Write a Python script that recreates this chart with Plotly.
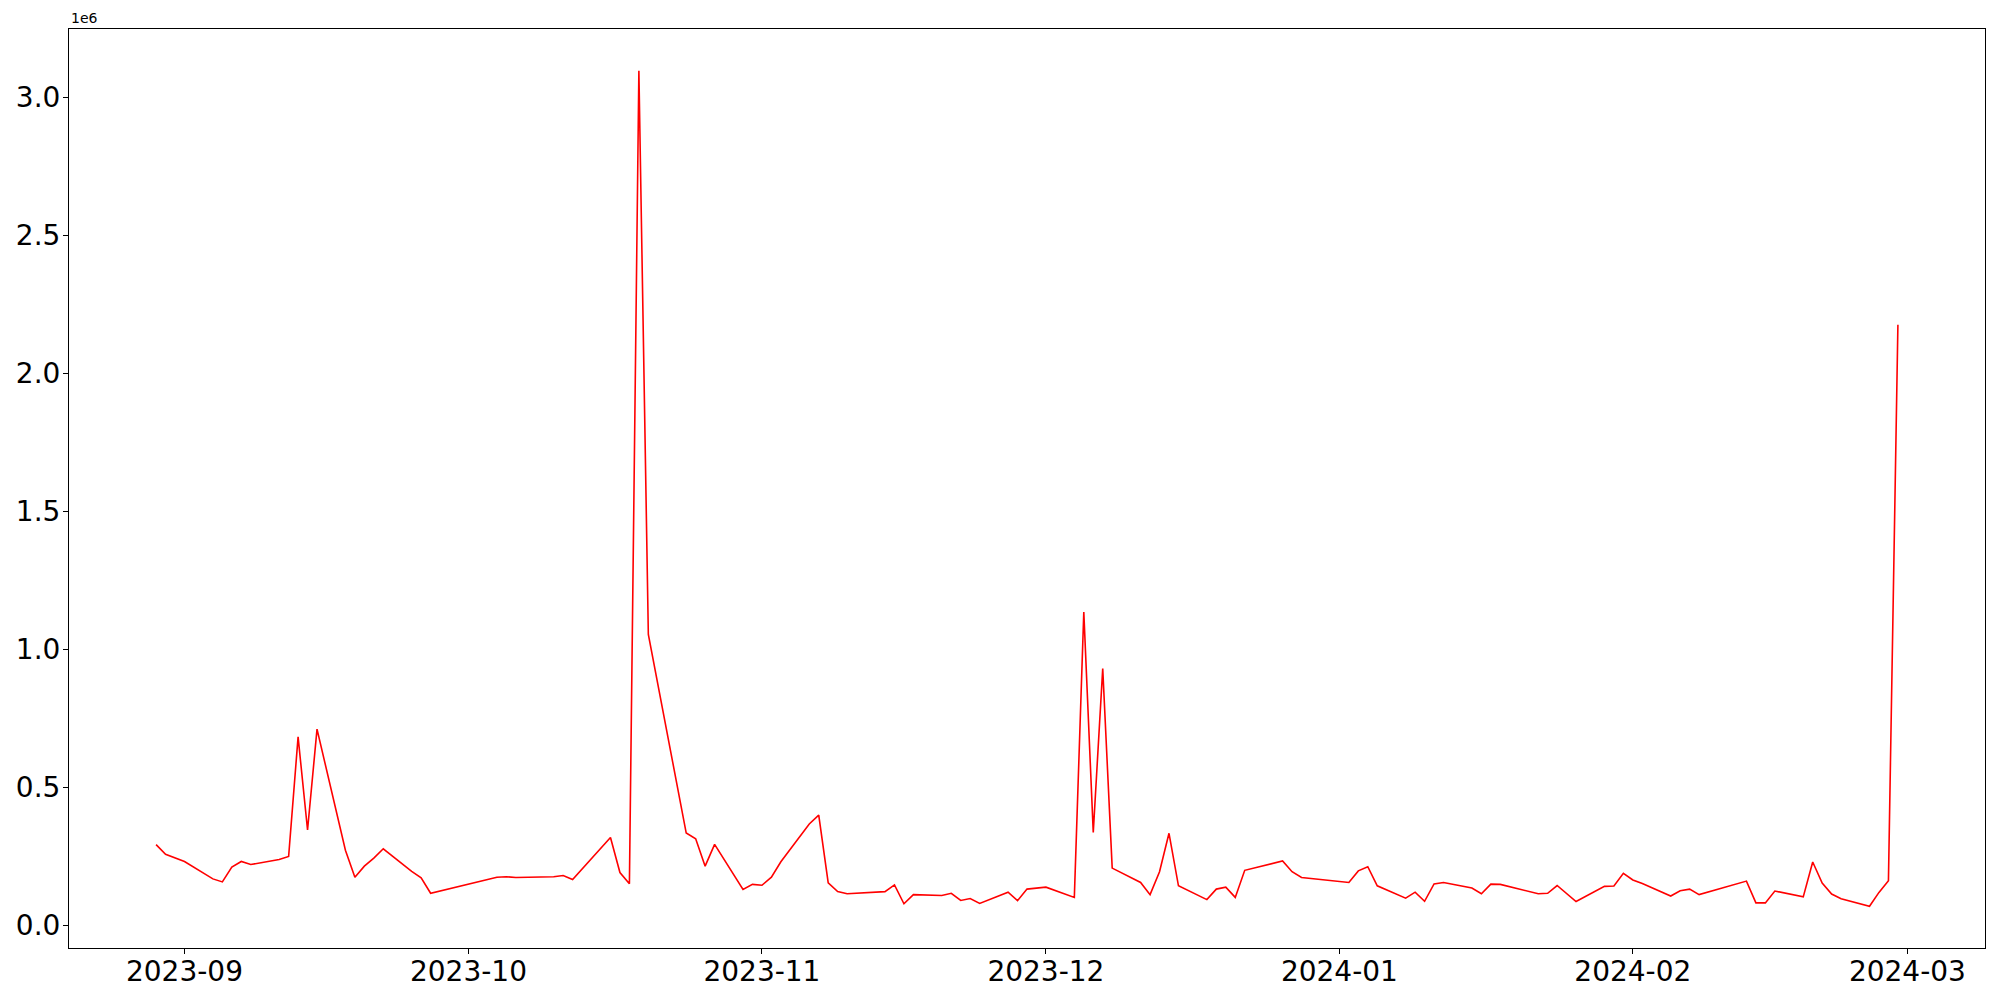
import pandas as pd
import plotly.graph_objects as go

dates = [
    "2023-08-29", "2023-08-30", "2023-09-01", "2023-09-04", "2023-09-05", "2023-09-06",
    "2023-09-07", "2023-09-08", "2023-09-11", "2023-09-12", "2023-09-13", "2023-09-14",
    "2023-09-15", "2023-09-18", "2023-09-19", "2023-09-20", "2023-09-21", "2023-09-22",
    "2023-09-25", "2023-09-26", "2023-09-27", "2023-10-04", "2023-10-05", "2023-10-06",
    "2023-10-10", "2023-10-11", "2023-10-12", "2023-10-16", "2023-10-17", "2023-10-18",
    "2023-10-19", "2023-10-20", "2023-10-24", "2023-10-25", "2023-10-26", "2023-10-27",
    "2023-10-30", "2023-10-31", "2023-11-01", "2023-11-02", "2023-11-03", "2023-11-06",
    "2023-11-07", "2023-11-08", "2023-11-09", "2023-11-10", "2023-11-14", "2023-11-15",
    "2023-11-16", "2023-11-17", "2023-11-20", "2023-11-21", "2023-11-22", "2023-11-23",
    "2023-11-24", "2023-11-27", "2023-11-28", "2023-11-29", "2023-12-01", "2023-12-04",
    "2023-12-05", "2023-12-06", "2023-12-07", "2023-12-08", "2023-12-11", "2023-12-12",
    "2023-12-13", "2023-12-14", "2023-12-15", "2023-12-18", "2023-12-19", "2023-12-20",
    "2023-12-21", "2023-12-22", "2023-12-26", "2023-12-27", "2023-12-28", "2024-01-02",
    "2024-01-03", "2024-01-04", "2024-01-05", "2024-01-08", "2024-01-09", "2024-01-10",
    "2024-01-11", "2024-01-12", "2024-01-15", "2024-01-16", "2024-01-17", "2024-01-18",
    "2024-01-22", "2024-01-23", "2024-01-24", "2024-01-26", "2024-01-29", "2024-01-30",
    "2024-01-31", "2024-02-01", "2024-02-02", "2024-02-05", "2024-02-06", "2024-02-07",
    "2024-02-08", "2024-02-13", "2024-02-14", "2024-02-15", "2024-02-16", "2024-02-19",
    "2024-02-20", "2024-02-21", "2024-02-22", "2024-02-23", "2024-02-26", "2024-02-27",
    "2024-02-28", "2024-02-29",
]

values = [
    293000, 258000, 232000, 169000, 158000, 212000,
    232000, 221000, 239000, 250000, 683000, 346000,
    711000, 273000, 175000, 215000, 244000, 278000,
    196000, 173000, 117000, 175000, 177000, 174000,
    177000, 181000, 167000, 319000, 192000, 151000,
    3095000, 1054000, 335000, 314000, 215000, 294000,
    131000, 149000, 146000, 175000, 231000, 368000,
    400000, 155000, 123000, 115000, 123000, 147000,
    79000, 112000, 109000, 117000, 91000, 98000,
    80000, 121000, 90000, 132000, 139000, 102000,
    1135000, 337000, 931000, 208000, 156000, 112000,
    195000, 334000, 144000, 94000, 132000, 139000,
    102000, 200000, 234000, 195000, 174000, 156000,
    198000, 213000, 144000, 99000, 121000, 88000,
    151000, 156000, 136000, 115000, 150000, 149000,
    115000, 117000, 145000, 87000, 142000, 143000,
    189000, 165000, 152000, 107000, 126000, 132000,
    112000, 161000, 82000, 82000, 125000, 104000,
    230000, 154000, 114000, 97000, 70000, 120000,
    162000, 2175000,
]

y_tick_vals = [0, 500000, 1000000, 1500000, 2000000, 2500000, 3000000]
y_tick_text = ["0.0", "0.5", "1.0", "1.5", "2.0", "2.5", "3.0"]
x_tick_vals = ["2023-09-01", "2023-10-01", "2023-11-01", "2023-12-01",
               "2024-01-01", "2024-02-01", "2024-03-01"]
x_tick_text = ["2023-09", "2023-10", "2023-11", "2023-12", "2024-01", "2024-02", "2024-03"]

x = pd.to_datetime(dates)
xmin, xmax = x.min(), x.max()
xpad = (xmax - xmin) * 0.05
ymin, ymax = min(values), max(values)
ypad = (ymax - ymin) * 0.05

fig = go.Figure()
fig.add_trace(go.Scatter(x=x, y=values, mode="lines",
                         line=dict(color="red", width=1.6), showlegend=False))

font = "DejaVu Sans"
axis_common = dict(showline=True, linecolor="black", linewidth=1, mirror=True,
                   ticks="outside", ticklen=5, tickwidth=1, tickcolor="black",
                   showgrid=False, zeroline=False, automargin=False,
                   tickfont=dict(family=font, size=28, color="black"))

fig.update_xaxes(range=[xmin - xpad, xmax + xpad], tickvals=x_tick_vals,
                 ticktext=x_tick_text, ticklabelstandoff=-7, **axis_common)
fig.update_yaxes(range=[ymin - ypad, ymax + ypad], tickvals=y_tick_vals,
                 ticktext=y_tick_text, ticklabelstandoff=-3, **axis_common)

fig.add_annotation(text="1e6", xref="paper", yref="paper", x=0, y=1,
                   xanchor="left", yanchor="bottom", showarrow=False,
                   font=dict(family=font, size=14, color="black"), yshift=1)

fig.update_layout(width=2000, height=1000, plot_bgcolor="white", paper_bgcolor="white",
                  margin=dict(l=69, r=15, t=29, b=52), font=dict(family=font))

fig.write_html("out.html", config={"displayModeBar": False},
               post_script="document.body.style.margin='0';document.body.style.overflow='hidden';")
